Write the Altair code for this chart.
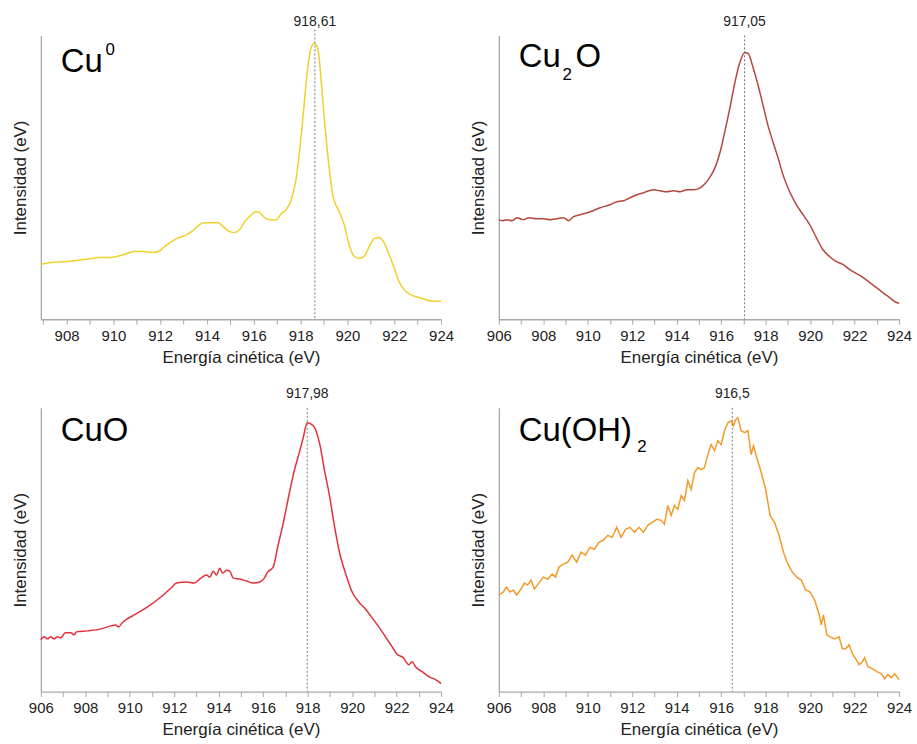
import altair as alt
import pandas as pd

# ---------------- data ----------------
cu0_ev = [906.9, 907.32, 908.03, 908.74, 909.45, 909.87, 910.15, 910.58, 910.86, 911.29,
          911.64, 911.93, 912.14, 912.42, 912.7, 913.06, 913.34, 913.63, 913.84, 914.12,
          914.48, 914.69, 914.97, 915.19, 915.4, 915.61, 915.82, 916.08, 916.25, 916.46,
          916.67, 916.96, 917.17, 917.38, 917.6, 917.8, 917.95, 918.12, 918.30, 918.44,
          918.59, 918.73, 918.87, 919.01, 919.22, 919.37, 919.5, 919.65, 919.86, 920.07,
          920.29, 920.50, 920.71, 920.93, 921.14, 921.35, 921.56, 921.78, 921.99, 922.20,
          922.41, 922.77, 923.19, 923.62, 924.0]
cu0_int = [55, 57, 58, 60, 62, 62, 63, 66, 68, 68,
           67, 68, 72, 77, 81, 84, 88, 94, 97, 97,
           97, 93, 88, 87, 90, 98, 103, 108, 107, 102,
           100, 100, 106, 110, 120, 140, 168, 208, 252, 272,
           277, 272, 242, 202, 152, 125, 115, 108, 95, 75,
           63, 61, 63, 73, 81, 82, 77, 65, 52, 38,
           30, 24, 21, 18, 18]

cu2o_ev = [906.0, 906.15, 906.37, 906.6, 906.82, 906.97, 907.12, 907.35, 907.72, 908.02,
           908.32, 908.62, 908.91, 909.14, 909.36, 909.66, 910.11, 910.56, 911.0, 911.3,
           911.6, 911.9, 912.2, 912.5, 912.95, 913.25, 913.55, 913.85, 914.15, 914.45,
           914.75, 915.05, 915.27, 915.5, 915.72, 915.94, 916.16, 916.39, 916.61, 916.84,
           917.06, 917.21, 917.43, 917.66, 917.88, 918.1, 918.33, 918.56, 918.78, 919.08,
           919.38, 919.68, 919.98, 920.28, 920.57, 920.87, 921.17, 921.47, 921.77, 922.07,
           922.37, 922.67, 922.97, 923.26, 923.56, 923.86, 924.0]
cu2o_int = [100, 99, 100, 99, 102, 101, 100, 102, 101, 101,
            100, 101, 102, 99, 103, 105, 108, 112, 115, 118,
            119, 122, 125, 127, 130, 129, 128, 129, 128, 130,
            130, 132, 136, 143, 152, 167, 188, 212, 237, 258,
            268, 267, 253, 235, 215, 195, 178, 162, 145, 128,
            115, 105, 95, 82, 70, 63, 58, 55, 50, 46,
            42, 37, 32, 27, 22, 17, 16]

cuo_ev = [906.0, 906.15, 906.3, 906.45, 906.6, 906.75, 906.9, 907.1, 907.35, 907.5,
          907.6, 908.1, 908.7, 909.15, 909.35, 909.5, 909.65, 910.2, 910.8, 911.4,
          911.9, 912.1, 912.55, 912.9, 913.2, 913.45, 913.6, 913.75, 913.9, 914.05,
          914.17, 914.35, 914.5, 914.65, 914.95, 915.25, 915.55, 915.85, 916.05, 916.2,
          916.45, 916.65, 916.9, 917.2, 917.4, 917.65, 917.8, 917.98, 918.25, 918.55,
          918.75, 918.98, 919.2, 919.43, 919.73, 920.0, 920.3, 920.6, 920.9, 921.2,
          921.5, 921.8, 922.0, 922.3, 922.55, 922.7, 922.85, 923.15, 923.45, 923.75,
          924.0]
cuo_int = [52, 55, 53, 55, 53, 55, 54, 59, 59, 57,
           60, 61, 63, 66, 67, 65, 69, 77, 85, 95,
           105, 109, 110, 109, 114, 117, 115, 121, 117, 124,
           119, 122, 121, 114, 113, 111, 109, 110, 114, 120,
           125, 145, 169, 202, 222, 242, 255, 270, 267, 248,
           223, 197, 167, 140, 117, 100, 90, 83, 74, 65,
           55, 45, 38, 34, 27, 30, 25, 20, 15, 12,
           8]

cuoh2_ev = [906.0, 906.2, 906.35, 906.5, 906.65, 906.8, 907.0, 907.15, 907.3, 907.45,
            907.6, 907.8, 908.0, 908.2, 908.4, 908.55, 908.7, 908.9, 909.1, 909.3,
            909.5, 909.7, 909.9, 910.1, 910.3, 910.5, 910.7, 910.9, 911.1, 911.3,
            911.5, 911.7, 911.9, 912.1, 912.3, 912.5, 912.7, 912.9, 913.1, 913.3,
            913.45, 913.6, 913.75, 913.9, 914.05, 914.2, 914.35, 914.5, 914.65, 914.8,
            914.95, 915.1, 915.25, 915.4, 915.55, 915.7, 915.85, 916.0, 916.15, 916.3,
            916.45, 916.55, 916.65, 916.75, 916.9, 917.05, 917.2, 917.35, 917.45, 917.6,
            917.8, 918.0, 918.2, 918.4, 918.6, 918.8, 919.0, 919.2, 919.4, 919.6,
            919.8, 920.0, 920.2, 920.4, 920.5, 920.6, 920.75, 920.9, 921.1, 921.3,
            921.45, 921.6, 921.75, 921.9, 922.05, 922.2, 922.35, 922.45, 922.6, 922.8,
            923.0, 923.2, 923.35, 923.5, 923.65, 923.8, 924.0]
cuoh2_int = [97, 100, 105, 100, 102, 97, 103, 109, 107, 112,
             103, 109, 115, 113, 118, 115, 125, 128, 130, 137,
             130, 140, 137, 145, 143, 150, 152, 157, 155, 165,
             155, 163, 165, 160, 165, 160, 167, 170, 173, 172,
             168, 187, 177, 187, 183, 197, 192, 212, 203, 220,
             225, 223, 225, 238, 248, 242, 252, 248, 262, 270,
             272, 267, 273, 275, 262, 260, 262, 238, 247, 235,
             220, 203, 177, 170, 157, 140, 128, 120, 115, 112,
             102, 100, 92, 78, 67, 77, 57, 55, 53, 55,
             43, 43, 47, 38, 33, 27, 30, 34, 25, 23,
             20, 18, 13, 17, 14, 18, 12]

peaks = [918.61, 917.05, 917.98, 916.5]
x_mins = [906.9, 906.0, 906.0, 906.0]
colors = ["#F0D02A", "#B4473B", "#E3303A", "#F39A2B"]
interps = ["monotone", "monotone", "monotone", "linear"]
series = [(cu0_ev, cu0_int), (cu2o_ev, cu2o_int), (cuo_ev, cuo_int), (cuoh2_ev, cuoh2_int)]

# title pieces: (text, x px, baseline y px, font size) relative to plot area
title_parts = [
    [("Cu", 20, 37, 33), ("0", 65, 20, 17)],
    [("Cu", 20, 32, 33), ("2", 64, 45, 17), ("O", 77, 32, 33)],
    [("CuO", 20, 33, 33)],
    [("Cu(OH)", 20, 33, 33), ("2", 139, 44, 17)],
]
rule_tops = [-6, 0, 0, 0]

W, H = 402, 285
FONT = "Liberation Sans"
AXIS_GRAY = "#a8a8a8"


def panel(i):
    ev, inten = series[i]
    df = pd.DataFrame({"eV": ev, "I": inten})
    xmin = x_mins[i]
    first = int(xmin) if float(xmin).is_integer() else int(xmin) + 1
    tick_vals = list(range(first, 925))
    xenc = alt.X(
        "eV:Q",
        scale=alt.Scale(domain=[xmin, 924], nice=False, zero=False),
        axis=alt.Axis(
            title="Energía cinética (eV)",
            values=tick_vals,
            tickCount=60,
            labelExpr="datum.value % 2 === 0 ? datum.label : ''",
            format="d",
            grid=False,
            domainColor=AXIS_GRAY,
            domainWidth=1.3,
            tickColor=AXIS_GRAY,
            tickSize=5,
            tickWidth=1,
            labelFont=FONT,
            labelFontSize=15,
            labelColor="#222222",
            labelPadding=4,
            labelFlush=False,
            labelOverlap=False,
            titleFont=FONT,
            titleFontSize=17,
            titleFontWeight="normal",
            titleColor="#222222",
            titlePadding=6,
        ),
    )
    line = alt.Chart(df).mark_line(
        color=colors[i], strokeWidth=1.5, interpolate=interps[i]
    ).encode(
        x=xenc,
        y=alt.Y(
            "I:Q",
            scale=alt.Scale(domain=[0, 285], nice=False, zero=False),
            axis=alt.Axis(
                title="Intensidad (eV)",
                labels=False,
                ticks=False,
                grid=False,
                domainColor=AXIS_GRAY,
                domainWidth=1.3,
                titleFont=FONT,
                titleFontSize=17,
                titleFontWeight="normal",
                titleColor="#222222",
                titlePadding=11,
            ),
        ),
    )
    pk = pd.DataFrame({"eV": [peaks[i]], "label": [f"{peaks[i]}".replace(".", ",")]})
    rule = alt.Chart(pk).mark_rule(color="#555555", strokeDash=[2, 2], strokeWidth=0.8).encode(
        x=alt.X("eV:Q"),
        y=alt.value(rule_tops[i]),
        y2=alt.value(H),
    )
    lab = alt.Chart(pk).mark_text(
        font=FONT, fontSize=14, color="#222222", baseline="alphabetic", align="center"
    ).encode(x=alt.X("eV:Q"), y=alt.value(-10), text="label:N")
    layers = [line, rule, lab]
    one = pd.DataFrame({"k": [0]})
    for txt, tx, ty, fs in title_parts[i]:
        layers.append(
            alt.Chart(one).mark_text(
                text=txt, font=FONT, fontSize=fs, color="#000000",
                align="left", baseline="alphabetic",
            ).encode(x=alt.value(tx), y=alt.value(ty))
        )
    return alt.layer(*layers).properties(width=W, height=H)


chart = alt.concat(
    *[panel(i) for i in range(4)],
    columns=2,
    spacing={"row": 89, "column": 58},
    bounds="flush",
).properties(
    padding={"left": 12, "top": 13, "right": 5, "bottom": 5},
    background="white",
).configure_view(stroke=None)

chart.save("out.html", embed_options={"renderer": "svg", "actions": False})
